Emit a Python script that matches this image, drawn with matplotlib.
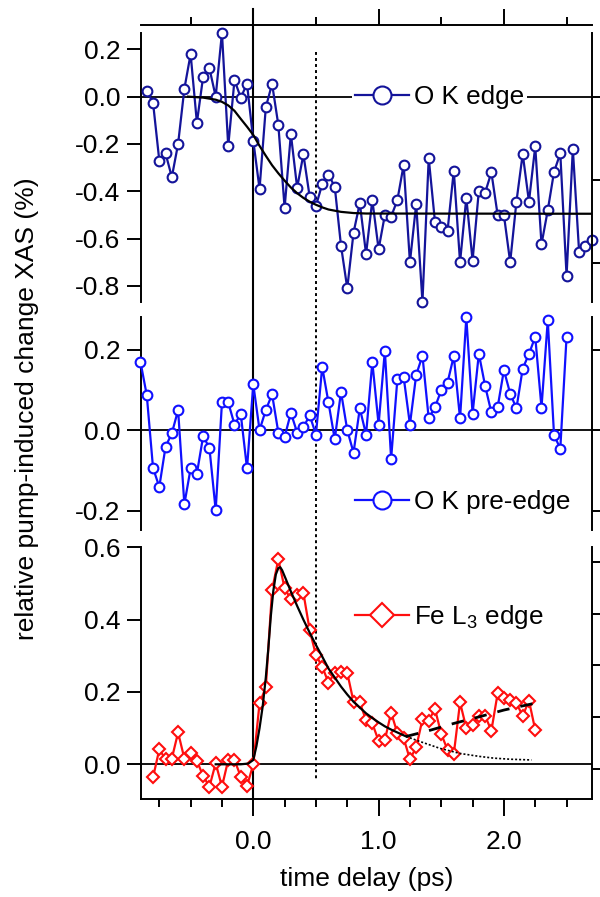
import matplotlib
matplotlib.use("Agg")
import matplotlib.pyplot as plt
from matplotlib.lines import Line2D
from matplotlib.ticker import MultipleLocator, FormatStrFormatter, FixedLocator
from matplotlib.transforms import blended_transform_factory

plt.rcParams['font.family'] = ['Liberation Sans', 'DejaVu Sans']
plt.rcParams['mathtext.default'] = 'regular'
plt.rcParams['axes.unicode_minus'] = False

# ---------------- data ----------------
t_okedge = [-0.85, -0.80, -0.75, -0.70, -0.65, -0.60, -0.55, -0.50, -0.45, -0.40,
            -0.35, -0.30, -0.25, -0.20, -0.15, -0.10, -0.05, 0.00, 0.05, 0.10,
            0.15, 0.20, 0.25, 0.30, 0.35, 0.40, 0.45, 0.50, 0.55, 0.60,
            0.65, 0.70, 0.75, 0.80, 0.85, 0.90, 0.95, 1.00, 1.05, 1.10,
            1.15, 1.20, 1.25, 1.30, 1.35, 1.40, 1.45, 1.50, 1.55, 1.60,
            1.65, 1.70, 1.75, 1.80, 1.85, 1.90, 1.95, 2.00, 2.05, 2.10,
            2.15, 2.20, 2.25, 2.30, 2.35, 2.40, 2.45, 2.50, 2.55, 2.60,
            2.65, 2.70]
v_okedge = [0.024, -0.025, -0.27, -0.24, -0.34, -0.20, 0.033, 0.18, -0.11, 0.085,
            0.12, 0.0, 0.27, -0.21, 0.07, -0.004, 0.054, -0.186, -0.39, -0.045,
            0.054, -0.12, -0.47, -0.158, -0.385, -0.244, -0.423, -0.462, -0.37, -0.33,
            -0.38, -0.63, -0.81, -0.575, -0.45, -0.665, -0.437, -0.645, -0.50, -0.507,
            -0.437, -0.288, -0.70, -0.454, -0.867, -0.26, -0.53, -0.55, -0.568, -0.313,
            -0.70, -0.427, -0.693, -0.397, -0.406, -0.32, -0.50, -0.50, -0.70, -0.444,
            -0.242, -0.444, -0.21, -0.624, -0.48, -0.318, -0.24, -0.757, -0.221, -0.655,
            -0.63, -0.606]

t_okedge_fit = [-0.52, -0.40, -0.30, -0.25, -0.20, -0.15, -0.10, -0.05, 0.00, 0.05,
                0.10, 0.15, 0.20, 0.25, 0.30, 0.35, 0.40, 0.45, 0.50, 0.55,
                0.60, 0.70, 0.80, 0.90, 2.70]
v_okedge_fit = [0.0, -0.004, -0.013, -0.022, -0.037, -0.060, -0.094, -0.127, -0.162, -0.208,
                -0.250, -0.290, -0.324, -0.355, -0.384, -0.408, -0.428, -0.444, -0.457, -0.468,
                -0.477, -0.487, -0.492, -0.494, -0.495]

t_pre = [-0.90, -0.85, -0.80, -0.75, -0.70, -0.65, -0.60, -0.55, -0.50, -0.45,
         -0.40, -0.35, -0.30, -0.25, -0.20, -0.15, -0.10, -0.05, 0.00, 0.05,
         0.10, 0.15, 0.20, 0.25, 0.30, 0.35, 0.40, 0.45, 0.50, 0.55,
         0.60, 0.65, 0.70, 0.75, 0.80, 0.85, 0.90, 0.95, 1.00, 1.05,
         1.10, 1.15, 1.20, 1.25, 1.30, 1.35, 1.40, 1.45, 1.50, 1.55,
         1.60, 1.65, 1.70, 1.75, 1.80, 1.85, 1.90, 1.95, 2.00, 2.05,
         2.10, 2.15, 2.20, 2.25, 2.30, 2.35, 2.40, 2.45, 2.50]
v_pre = [0.169, 0.087, -0.094, -0.141, -0.041, -0.008, 0.05, -0.184, -0.095, -0.108,
         -0.015, -0.044, -0.199, 0.069, 0.069, 0.014, 0.04, -0.095, 0.114, 0.0,
         0.05, 0.089, -0.006, -0.017, 0.043, -0.006, 0.007, 0.037, -0.011, 0.157,
         0.069, -0.023, 0.095, 0.0, -0.056, 0.054, -0.011, 0.169, 0.014, 0.197,
         -0.071, 0.127, 0.132, 0.014, 0.137, 0.185, 0.029, 0.057, 0.099, 0.118,
         0.184, 0.029, 0.28, 0.041, 0.19, 0.11, 0.044, 0.057, 0.149, 0.091,
         0.054, 0.153, 0.189, 0.232, 0.056, 0.273, -0.012, -0.046, 0.232]

t_fe = [-0.80, -0.75, -0.70, -0.65, -0.60, -0.55, -0.50, -0.45, -0.40, -0.35,
        -0.30, -0.25, -0.20, -0.15, -0.10, -0.05, 0.00, 0.05, 0.10, 0.15,
        0.20, 0.25, 0.30, 0.35, 0.40, 0.45, 0.50, 0.55, 0.60, 0.65,
        0.70, 0.75, 0.80, 0.85, 0.90, 0.95, 1.00, 1.05, 1.10, 1.15,
        1.20, 1.25, 1.30, 1.35, 1.40, 1.45, 1.50, 1.55, 1.60, 1.65,
        1.70, 1.75, 1.80, 1.85, 1.90, 1.95, 2.00, 2.05, 2.10, 2.15,
        2.20, 2.25]
v_fe = [-0.036, 0.041, 0.014, 0.016, 0.088, 0.016, 0.032, 0.009, -0.032, -0.062,
        0.003, -0.062, 0.012, 0.012, -0.034, -0.06, 0.0, 0.169, 0.213, 0.482,
        0.567, 0.487, 0.456, 0.468, 0.474, 0.371, 0.302, 0.27, 0.226, 0.253,
        0.256, 0.253, 0.173, 0.171, 0.122, 0.113, 0.065, 0.067, 0.143, 0.086,
        0.072, 0.014, 0.047, 0.124, 0.121, 0.153, 0.084, 0.04, 0.028, 0.171,
        0.10, 0.109, 0.134, 0.134, 0.093, 0.196, 0.182, 0.178, 0.169, 0.134,
        0.176, 0.095]

t_fe_fit = [-0.30, -0.10, -0.04, 0.0, 0.025, 0.05, 0.075, 0.10, 0.12, 0.14,
            0.16, 0.18, 0.20, 0.215, 0.23, 0.26, 0.30, 0.35, 0.40, 0.45,
            0.50, 0.55, 0.60, 0.65, 0.70, 0.75, 0.80, 0.85, 0.90, 0.95,
            1.00, 1.05, 1.10, 1.15, 1.22]
v_fe_fit = [0.0, 0.0, 0.002, 0.012, 0.05, 0.10, 0.16, 0.24, 0.32, 0.41,
            0.48, 0.525, 0.543, 0.545, 0.537, 0.512, 0.478, 0.438, 0.400, 0.364,
            0.330, 0.298, 0.265, 0.240, 0.215, 0.193, 0.173, 0.157, 0.141, 0.128,
            0.116, 0.105, 0.096, 0.088, 0.077]
t_fe_dash = [1.22, 1.40, 1.60, 1.80, 2.00, 2.30]
v_fe_dash = [0.077, 0.093, 0.113, 0.131, 0.150, 0.173]
t_fe_dot = [1.22, 1.33, 1.49, 1.65, 1.80, 1.92, 2.05, 2.22]
v_fe_dot = [0.077, 0.063, 0.044, 0.030, 0.022, 0.017, 0.014, 0.012]

time_zero = 0.0
time_marker = 0.5

labels = ['O K edge', 'O K pre-edge', 'Fe L$_3$ edge']
yticks_top = [0.2, 0.0, -0.2, -0.4, -0.6, -0.8]
yticks_mid = [0.2, 0.0, -0.2]
yticks_bot = [0.6, 0.4, 0.2, 0.0]
yticks_top_right = [0.0, -0.5, -1.0]
yticks_bot_right = [0.0, 0.1, 0.2, 0.3, 0.4]
xticks_major = [0.0, 1.0, 2.0]

# ---------------- styling ----------------
c_top = '#14149a'
c_mid = '#1010ff'
c_red = '#ff0e0e'
FS = 19
FS_LEG = 18.8
LW_AX = 1.4
LW_DATA = 1.6

fig = plt.figure(figsize=(6, 8.97), dpi=100)
H = 897.0
L = 141 / 600
W = (592 - 141) / 600
ax_top = fig.add_axes([L, 1 - 302 / H, W, 269 / H])
ax_mid = fig.add_axes([L, 1 - 530 / H, W, 213 / H])
ax_bot = fig.add_axes([L, 1 - 799 / H, W, 252 / H])

xlim = (-0.896, 2.703)
for ax in (ax_top, ax_mid, ax_bot):
    ax.set_xlim(*xlim)
    ax.patch.set_visible(False)
    for s in ax.spines.values():
        s.set_linewidth(LW_AX)
    ax.spines['right'].set_visible(False)
    ax.axhline(0, color='k', lw=1.3, zorder=1)
    ax.tick_params(axis='y', direction='out', length=10, width=LW_AX,
                   labelsize=FS, pad=5)

ax_top.set_ylim(-0.868, 0.269)
ax_mid.set_ylim(-0.248, 0.281)
ax_bot.set_ylim(-0.096, 0.601)

ax_top.yaxis.set_major_locator(FixedLocator(yticks_top))
ax_mid.yaxis.set_major_locator(FixedLocator(yticks_mid))
ax_bot.yaxis.set_major_locator(FixedLocator(yticks_bot))
for ax in (ax_top, ax_mid, ax_bot):
    ax.yaxis.set_major_formatter(FormatStrFormatter('%.1f'))

# x axes
ax_top.spines['bottom'].set_visible(False)
ax_top.spines['top'].set_position(('outward', 5.8))
ax_top.xaxis.tick_top()
ax_top.xaxis.set_major_locator(FixedLocator(xticks_major))
ax_top.xaxis.set_minor_locator(MultipleLocator(0.5))
ax_top.tick_params(axis='x', which='major', direction='out', length=11.5,
                   width=LW_AX, labeltop=False, labelbottom=False)
ax_top.tick_params(axis='x', which='minor', direction='out', length=5.8,
                   width=LW_AX)

ax_mid.spines['top'].set_visible(False)
ax_mid.spines['bottom'].set_visible(False)
ax_mid.tick_params(axis='x', which='both', bottom=False, top=False,
                   labelbottom=False)

ax_bot.spines['top'].set_visible(False)
ax_bot.xaxis.set_major_locator(FixedLocator(xticks_major))
ax_bot.xaxis.set_minor_locator(MultipleLocator(0.25))
ax_bot.xaxis.set_major_formatter(FormatStrFormatter('%.1f'))
ax_bot.tick_params(axis='x', which='major', direction='out', length=12,
                   width=LW_AX, labelsize=FS, pad=10)
ax_bot.tick_params(axis='x', which='minor', direction='out', length=6,
                   width=LW_AX)
ax_bot.set_xlabel('time delay (ps)', fontsize=FS, labelpad=10)

# right axes
def right_axis(ax, ylim, ticks):
    tw = ax.twinx()
    tw.set_ylim(*ylim)
    tw.yaxis.set_major_locator(FixedLocator(ticks))
    tw.tick_params(axis='y', direction='out', length=8, width=LW_AX,
                   labelright=False)
    for k in ('top', 'bottom', 'left'):
        tw.spines[k].set_visible(False)
    tw.spines['right'].set_linewidth(LW_AX)
    tw.patch.set_visible(False)
    return tw

right_axis(ax_top, (-1.235, 0.386), yticks_top_right)
right_axis(ax_mid, ax_mid.get_ylim(), yticks_mid)
right_axis(ax_bot, (-0.058, 0.429), yticks_bot_right)

# vertical guide lines across panels (figure level, behind axes)
trans = blended_transform_factory(ax_bot.transData, fig.transFigure)
fig.add_artist(Line2D([time_zero, time_zero], [1 - 9 / H, 1 - 799 / H],
                      transform=trans, color='k', lw=1.5, zorder=-1))
fig.add_artist(Line2D([time_marker, time_marker], [1 - 52 / H, 1 - 779 / H],
                      transform=trans, color='k', lw=1.4, zorder=-1,
                      dashes=(1.5, 1.6)))

# data
h1, = ax_top.plot(t_okedge, v_okedge, '-o', color=c_top, lw=LW_DATA, ms=7,
                  mfc='white', mec=c_top, mew=1.5, zorder=3, clip_on=False)
ax_top.plot(t_okedge_fit, v_okedge_fit, '-', color='k', lw=1.6, zorder=4)

h2, = ax_mid.plot(t_pre, v_pre, '-o', color=c_mid, lw=LW_DATA, ms=7,
                  mfc='white', mec=c_mid, mew=1.5, zorder=3, clip_on=False)

h3, = ax_bot.plot(t_fe, v_fe, '-D', color=c_red, lw=LW_DATA, ms=6.5,
                  mfc='white', mec=c_red, mew=1.5, zorder=3, clip_on=False)
ax_bot.plot(t_fe_fit, v_fe_fit, '-', color='k', lw=1.6, zorder=4)
ax_bot.plot(t_fe_dash, v_fe_dash, color='k', lw=2.0, zorder=4, dashes=(4.5, 4))
ax_bot.plot(t_fe_dot, v_fe_dot, color='k', lw=1.2, zorder=4, dashes=(1.2, 1.2))

leg_kw = dict(loc='center left', frameon=True, fancybox=False, edgecolor='none',
              facecolor='white', framealpha=1, borderpad=0.12, borderaxespad=0,
              handlelength=2.05, handletextpad=0.2, markerscale=1.85,
              fontsize=FS_LEG)
ax_top.legend([h1], [labels[0]], bbox_to_anchor=(0.468, 0.762), **leg_kw)
ax_mid.legend([h2], [labels[1]], bbox_to_anchor=(0.468, 0.131), **leg_kw)
ax_bot.legend([h3], [labels[2]], bbox_to_anchor=(0.468, 0.722), **leg_kw)

fig.text(27 / 600, 1 - 409 / H, 'relative pump-induced change XAS (%)',
         rotation=90, ha='center', va='center', fontsize=FS)

fig.savefig('out.png', dpi=100)
